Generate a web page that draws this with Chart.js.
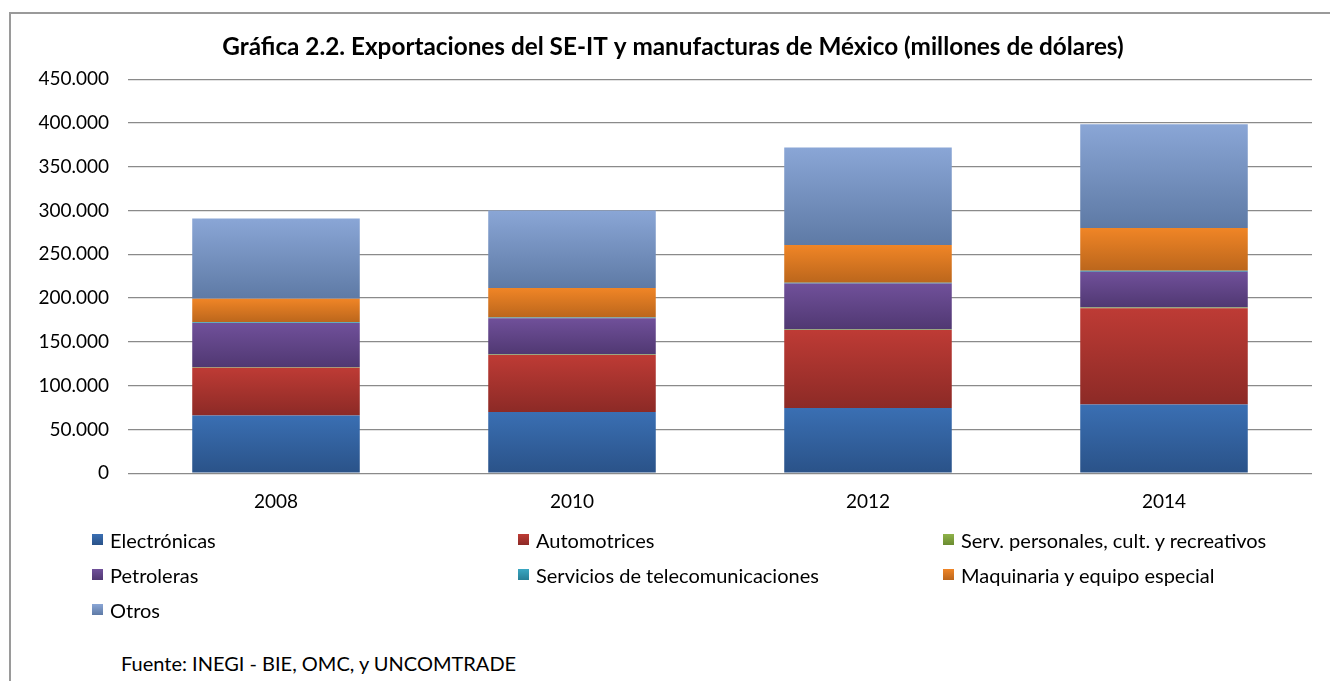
<!DOCTYPE html>
<html>
<head>
<meta charset="utf-8">
<script src="https://cdn.jsdelivr.net/npm/chart.js@4.4.1/dist/chart.umd.min.js"></script>
<style>
  html, body { margin: 0; padding: 0; background: #fff; }
  body { width: 1330px; height: 681px; position: relative; overflow: hidden; font-family: Lato, sans-serif; }
  .marco { position: absolute; left: 9px; top: 12px; width: 1400px; height: 720px; border: 2px solid #9a9a9a; box-sizing: border-box; }
  .grafico { position: absolute; left: 0; top: 0; width: 1330px; height: 530px; }
  .leyenda { position: absolute; left: 92px; top: 522px; display: grid; grid-template-columns: 426px 425px auto; grid-auto-rows: 35px; }
  .leyenda div { display: flex; align-items: center; font-size: 20px; color: #000; }
  .leyenda span { display: inline-block; width: 11px; height: 11px; margin-right: 7px; }
  .fuente { position: absolute; left: 121px; top: 651px; font-size: 20px; color: #000; }
</style>
</head>
<body>
<div class="marco"></div>
<div class="grafico"><canvas id="barChart"></canvas></div>
<div class="leyenda" id="leyenda"></div>
<div class="fuente">Fuente: INEGI - BIE, OMC, y UNCOMTRADE</div>
<script>
const anios = ["2008", "2010", "2012", "2014"];

// millones de dólares
const electronicas = [66000, 70000, 74500, 78500];
const automotrices = [54500, 65000, 89000, 110000];
const servPersonales = [400, 500, 600, 700];
const petroleras = [50600, 41500, 52400, 40800];
const telecomunicaciones = [800, 900, 1000, 1100];
const maquinaria = [27000, 33500, 43000, 48900];
const otros = [91500, 88600, 111500, 118500];

const ticksY = [0, 50000, 100000, 150000, 200000, 250000, 300000, 350000, 400000, 450000];

// color claro arriba, oscuro abajo (degradado tipo Excel)
const series = [
  { label: "Electrónicas", data: electronicas, claro: "#3a6fb3", oscuro: "#2a5288", plano: "#2e5e9b" },
  { label: "Automotrices", data: automotrices, claro: "#be3b35", oscuro: "#8c2a26", plano: "#b4332e" },
  { label: "Serv. personales, cult. y recreativos", data: servPersonales, claro: "#8fb24a", oscuro: "#6a8c30", plano: "#7ea33c" },
  { label: "Petroleras", data: petroleras, claro: "#70509a", oscuro: "#503872", plano: "#5e4583" },
  { label: "Servicios de telecomunicaciones", data: telecomunicaciones, claro: "#3aa7c2", oscuro: "#277f96", plano: "#2f98b3" },
  { label: "Maquinaria y equipo especial", data: maquinaria, claro: "#f08526", oscuro: "#bb661c", plano: "#e07a20" },
  { label: "Otros", data: otros, claro: "#8aa6d6", oscuro: "#5e7aa5", plano: "#7993c0" },
];

function degradado(serie, indice) {
  return (context) => {
    const chart = context.chart;
    const y = chart.scales.y;
    if (!chart.chartArea || !y || context.dataIndex === undefined) return serie.plano;
    let base = 0;
    for (let k = 0; k < indice; k++) base += series[k].data[context.dataIndex];
    const arriba = y.getPixelForValue(base + serie.data[context.dataIndex]);
    const abajo = y.getPixelForValue(base);
    if (!isFinite(arriba) || !isFinite(abajo) || arriba === abajo) return serie.plano;
    const g = chart.ctx.createLinearGradient(0, arriba, 0, abajo);
    g.addColorStop(0, serie.claro);
    g.addColorStop(1, serie.oscuro);
    return g;
  };
}

function generarGrafico() {
  const ctx = document.getElementById("barChart").getContext("2d");

  const chart = new Chart(ctx, {
    type: "bar",
    data: {
      labels: anios,
      datasets: series.map((s, i) => ({
        label: s.label,
        data: s.data,
        backgroundColor: degradado(s, i),
        borderWidth: 0,
        barPercentage: 0.566,
        categoryPercentage: 1,
      })),
    },
    options: {
      responsive: true,
      maintainAspectRatio: false,
      animation: false,
      layout: { padding: { left: 34, right: 18, top: 0, bottom: 0 } },
      plugins: {
        legend: { display: false },
        tooltip: { enabled: false },
        title: {
          display: true,
          text: "Gráfica 2.2. Exportaciones del SE-IT y manufacturas de México (millones de dólares)",
          color: "#000",
          font: { family: "Lato", size: 24.3, weight: "bold" },
          padding: { top: 33, bottom: 17 },
        },
      },
      scales: {
        x: {
          stacked: true,
          grid: { display: false, drawTicks: false },
          border: { display: false },
          ticks: { color: "#000", font: { family: "Lato", size: 19 }, padding: 17 },
        },
        y: {
          stacked: true,
          min: 0,
          max: 450000,
          afterBuildTicks: (scale) => { scale.ticks = ticksY.map((v) => ({ value: v })); },
          afterFit: (scale) => { scale.width = 94; },
          grid: { color: "#8a8a8a", lineWidth: 1.3, drawTicks: false },
          border: { display: false },
          ticks: {
            color: "#000",
            font: { family: "Lato", size: 19 },
            padding: 19,
            callback: (v) => (v === 0 ? "0" : (v / 1000).toFixed(0) + ".000"),
          },
        },
      },
    },
  });

  document.getElementById("leyenda").innerHTML = series
    .map((s) => `<div><span style="background:linear-gradient(${s.claro}, ${s.oscuro})"></span>${s.label}</div>`)
    .join("");
}

document.addEventListener("DOMContentLoaded", generarGrafico);
</script>
</body>
</html>
